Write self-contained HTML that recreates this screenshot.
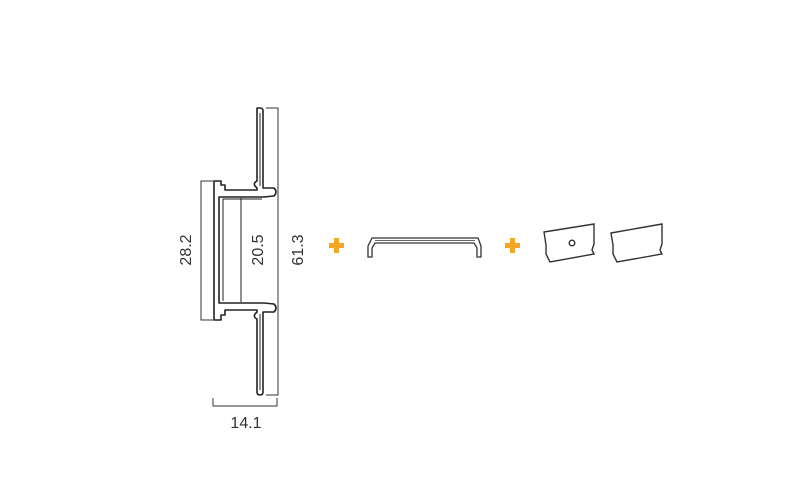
<!DOCTYPE html>
<html><head><style>
html,body{margin:0;padding:0;background:#fff;}
svg{display:block;}
text{font-family:"Liberation Sans",sans-serif;font-size:16px;fill:#333;}
</style></head><body>
<svg width="808" height="500" viewBox="0 0 808 500">
<g fill="none" stroke="#222" stroke-width="1.6" stroke-linejoin="round">
<path d="M257,108 L257,181 Q253,183 255,186 L257,188 L257,190 L225,190 L225,185 L221,185 L221,181 L214,181 L214,320 L221,320 L221,315 L225,315 L225,310 L257,310 L257,312 L255,314 Q253,317 257,319 L257,392 Q257,395 260,395 Q263,395 263,392 L263,312 L274,312 Q278,308 274,304 L264,303 L219,303 L219,197 L264,197 L274,196 Q278,192 274,188 L263,188 L263,111 Q263,108 260,108 Z"/>
<path d="M260,113 L260,186 M260,314 L260,390" stroke-width="1"/>
<line x1="241" y1="198" x2="241" y2="302" stroke-width="1"/>
<path d="M223,301 L223,199 L262,199" stroke-width="1"/>
</g>
<g fill="none" stroke="#333" stroke-width="1">
<path d="M213,181 L201,181 L201,320 L213,320"/>
<path d="M266,108 L278,108 L278,395 L266,395"/>
<path d="M213,398 L213,406 L277,406 L277,398"/>
</g>
<text transform="translate(191,250) rotate(-90)" text-anchor="middle">28.2</text>
<text transform="translate(263,250) rotate(-90)" text-anchor="middle">20.5</text>
<text transform="translate(303,250) rotate(-90)" text-anchor="middle">61.3</text>
<text x="246" y="428" text-anchor="middle">14.1</text>
<g fill="#f5a623">
<rect x="329" y="243" width="15" height="5"/><rect x="334" y="238" width="5" height="15"/>
<rect x="505" y="243" width="15" height="5"/><rect x="510" y="238" width="5" height="15"/>
</g>
<g fill="none" stroke="#333" stroke-width="1.3">
<path d="M372,238 L478,238 L481,246 L481,257 L477,257 L477,248 L474,243 L375,243 L372,248 L372,257 L368,257 L368,246 Z"/>
<line x1="375" y1="240.5" x2="475" y2="240.5" stroke-width="0.8"/>
</g>
<g fill="none" stroke="#333" stroke-width="1.4">
<path d="M544,232 L594,224 L594,244 L592,250 L594,254 L550,262 L548,258 L546,254 L546,245 Z"/>
<circle cx="572" cy="243" r="2.8"/>
<path d="M611,233 L662,224 L662,244 L660,250 L662,254 L617,262 L615,258 L613,254 L613,245 Z"/>
</g>
</svg>
</body></html>
